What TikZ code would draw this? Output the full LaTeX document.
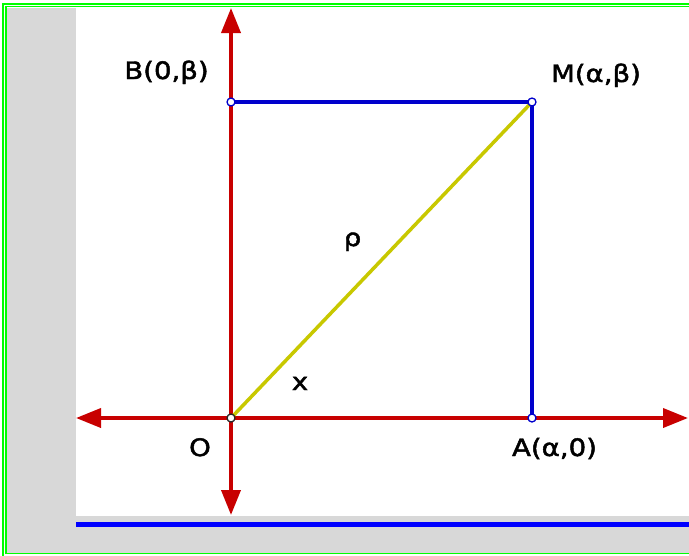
\documentclass[tikz,border=0pt]{standalone}
\usepackage{fontspec}
\setmainfont{DejaVu Sans}[FakeStretch=1.15,FakeBold=2]
\usetikzlibrary{arrows.meta}
\definecolor{axisred}{RGB}{200,0,0}
\definecolor{segblue}{RGB}{0,0,204}
\definecolor{rhoyellow}{RGB}{200,200,0}
\definecolor{bggray}{RGB}{216,216,216}
\definecolor{framegreen}{RGB}{0,255,0}
\definecolor{ptdark}{RGB}{40,40,40}
\tikzset{
  axisline/.style={draw=axisred, line width=3.8pt, -{Triangle[length=25pt,width=19pt]}},
  segline/.style={draw=segblue, line width=3.5pt},
  rholine/.style={draw=rhoyellow, line width=3.5pt},
  ptmark/.style={circle, inner sep=0pt, minimum size=8pt, draw=segblue, fill=white, line width=1.3pt},
  ptmarkO/.style={ptmark, draw=ptdark},
  lbl/.style={anchor=base, inner sep=0pt, font=\fontsize{24}{28}\selectfont, text=black}
}
\begin{document}
\begin{tikzpicture}[x=1pt,y=-1pt]
\useasboundingbox (0,0) rectangle (689,555);
% background and frame
\fill[white] (0,0) rectangle (689,555);
\fill[bggray] (7,8) rectangle (689,552.5);
\fill[white] (76,8) rectangle (689,516);
\fill[blue] (76,522) rectangle (689,527);
\draw[framegreen, line width=2pt] (3,556) -- (3,4) -- (690,4);
\draw[framegreen, line width=1.5pt] (690,553.5) -- (6,553.5) -- (6,6.5) -- (690,6.5);
% points
\coordinate (O) at (231,418);
\coordinate (A) at (532,418);
\coordinate (B) at (231,102);
\coordinate (M) at (532,102);
\coordinate (xl) at (76,418);
\coordinate (xr) at (688,418);
\coordinate (yt) at (231,8);
\coordinate (yb) at (231,515);
% axes
\draw[axisline] (O) -- (xr);
\draw[axisline] (O) -- (xl);
\draw[axisline] (O) -- (yt);
\draw[axisline] (O) -- (yb);
% segments
\draw[segline] (B) -- (M) -- (A);
\draw[rholine] (O) -- (M);
% markers
\node[ptmarkO] (Odot) at (O) {};
\node[ptmark] (Adot) at (A) {};
\node[ptmark] (Bdot) at (B) {};
\node[ptmark] (Mdot) at (M) {};
% labels
\node[lbl] (Blbl) at (166.5,79) {B(0,β)};
\node[lbl] (Mlbl) at (596,82) {M(α,β)};
\node[lbl] (rholbl) at (352.5,246) {ρ};
\node[lbl] (xlbl) at (300,390) {x};
\node[lbl] (Olbl) at (200,456) {O};
\node[lbl] (Albl) at (554.5,456) {A(α,0)};
\end{tikzpicture}
\end{document}
